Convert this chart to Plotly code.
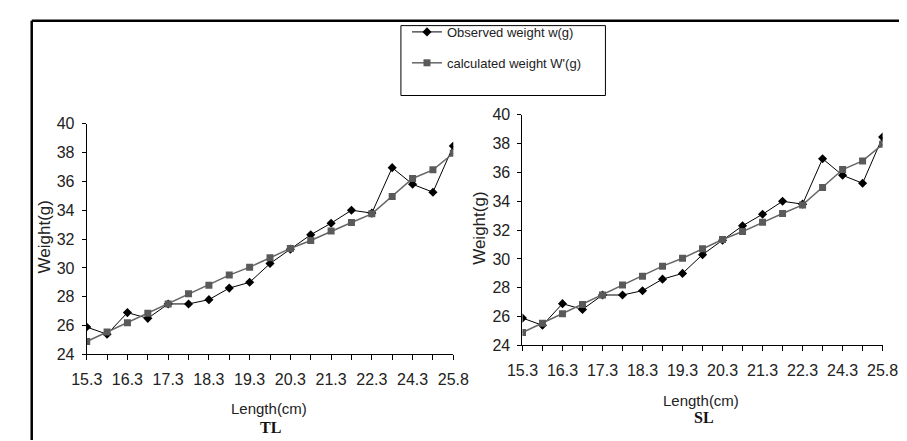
import plotly.graph_objects as go

W, H = 907, 441

lengths = ["15.3", "15.8", "16.3", "16.8", "17.3", "17.8", "18.3", "18.8", "19.3", "19.8",
           "20.3", "20.8", "21.3", "21.8", "22.3", "23.3", "24.3", "25.3", "25.8"]
shown_labels = ["15.3", "16.3", "17.3", "18.3", "19.3", "20.3", "21.3", "22.3", "24.3", "25.8"]
observed = [25.9, 25.4, 26.9, 26.5, 27.5, 27.5, 27.8, 28.6, 29.0, 30.3,
            31.3, 32.3, 33.1, 34.0, 33.8, 36.95, 35.8, 35.25, 38.45]
calculated = [24.9, 25.55, 26.2, 26.85, 27.5, 28.2, 28.8, 29.5, 30.05, 30.7,
              31.35, 31.9, 32.55, 33.15, 33.75, 34.95, 36.2, 36.8, 37.95]
y_ticks = [24, 26, 28, 30, 32, 34, 36, 38, 40]

FONT = "Liberation Sans"

def px_x(p):
    return p / W

def px_y(p):
    return 1 - p / H

fig = go.Figure()

panels = [
    dict(xa="x", ya="y", name_show=True),
    dict(xa="x2", ya="y2", name_show=False),
]

for p in panels:
    fig.add_trace(go.Scatter(
        x=lengths, y=observed, xaxis=p["xa"], yaxis=p["ya"],
        mode="lines+markers", name="Observed weight w(g)",
        line=dict(color="black", width=1),
        marker=dict(symbol="diamond", size=7, color="black"),
        showlegend=p["name_show"], legendgroup="obs",
    ))
    fig.add_trace(go.Scatter(
        x=lengths, y=calculated, xaxis=p["xa"], yaxis=p["ya"],
        mode="lines+markers", name="calculated weight W'(g)",
        line=dict(color="#666666", width=1.5),
        marker=dict(symbol="square", size=7, color="#5a5a5a"),
        showlegend=p["name_show"], legendgroup="calc",
    ))

ticktext = [l if l in shown_labels and i % 2 == 0 else "" for i, l in enumerate(lengths)]

axis_common_x = dict(
    type="category", tickmode="array", tickvals=lengths, ticktext=ticktext,
    range=[0, len(lengths) - 1], showline=True, linecolor="black", linewidth=1,
    ticks="outside", ticklen=5, tickcolor="black", showgrid=False, zeroline=False,
    tickfont=dict(family=FONT, size=16, color="#222"), ticklabelstandoff=5,
)
axis_common_y = dict(
    range=[24, 40], tickvals=y_ticks, showline=True, linecolor="black", linewidth=1,
    ticks="outside", ticklen=4, tickcolor="black", showgrid=False, zeroline=False,
    tickfont=dict(family=FONT, size=16, color="#222"), ticklabelstandoff=4,
)

fig.update_layout(
    width=W, height=H, margin=dict(l=0, r=0, t=0, b=0),
    paper_bgcolor="white", plot_bgcolor="white",
    xaxis=dict(domain=[px_x(65), px_x(445)], anchor="y", **axis_common_x),
    yaxis=dict(domain=[px_y(352), px_y(112)], anchor="x", **axis_common_y),
    xaxis2=dict(domain=[px_x(516.7), px_x(890)], anchor="y2", **axis_common_x),
    yaxis2=dict(domain=[px_y(342.7), px_y(102.7)], anchor="x2", **axis_common_y),
    legend=dict(x=px_x(397), y=px_y(1), xanchor="left", yanchor="top",
                font=dict(family=FONT, size=13, color="#222"),
                bgcolor="rgba(0,0,0,0)", borderwidth=0, itemwidth=30,
                tracegroupgap=11, traceorder="grouped"),
    showlegend=True,
)

shapes = [
    dict(type="line", xref="paper", yref="paper", x0=px_x(8), x1=1, y0=px_y(5), y1=px_y(5),
         line=dict(color="black", width=2.5)),
    dict(type="line", xref="paper", yref="paper", x0=px_x(8), x1=px_x(8), y0=px_y(5), y1=0,
         line=dict(color="black", width=2.5)),
    dict(type="rect", xref="paper", yref="paper", x0=px_x(390.7), x1=px_x(602.7),
         y0=px_y(82.7), y1=px_y(10), line=dict(color="black", width=1)),
]
fig.update_layout(shapes=shapes)

annos = [
    dict(text="Weight(g)", x=px_x(21), y=px_y(230), textangle=-90, font=dict(family=FONT, size=17, color="#222")),
    dict(text="Weight(g)", x=px_x(472), y=px_y(221), textangle=-90, font=dict(family=FONT, size=17, color="#222")),
    dict(text="Length(cm)", x=px_x(254), y=px_y(408), font=dict(family=FONT, size=15, color="#222")),
    dict(text="<b>TL</b>", x=px_x(256), y=px_y(428), font=dict(family="Liberation Serif", size=16, color="#111")),
    dict(text="Length(cm)", x=px_x(702), y=px_y(400), font=dict(family=FONT, size=15, color="#222")),
    dict(text="<b>SL</b>", x=px_x(705), y=px_y(418), font=dict(family="Liberation Serif", size=16, color="#111")),
]
for a in annos:
    a.update(xref="paper", yref="paper", showarrow=False, xanchor="center", yanchor="middle")
fig.update_layout(annotations=annos)

fig.write_html("out.html")
